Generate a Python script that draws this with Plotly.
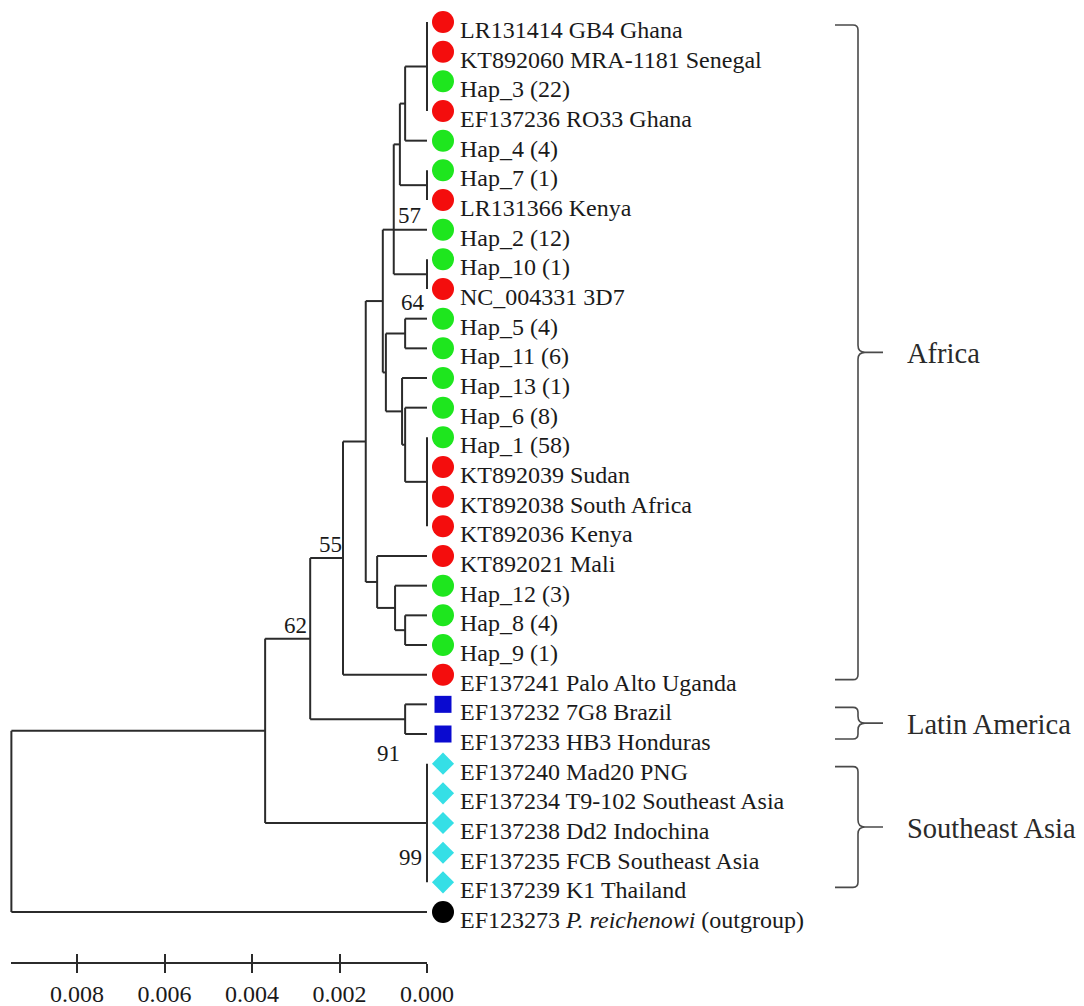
import plotly.graph_objects as go

# ---------------- data ----------------
leaf_labels = [
    "LR131414 GB4 Ghana", "KT892060 MRA-1181 Senegal", "Hap_3 (22)", "EF137236 RO33 Ghana",
    "Hap_4 (4)", "Hap_7 (1)", "LR131366 Kenya", "Hap_2 (12)", "Hap_10 (1)", "NC_004331 3D7",
    "Hap_5 (4)", "Hap_11 (6)", "Hap_13 (1)", "Hap_6 (8)", "Hap_1 (58)", "KT892039 Sudan",
    "KT892038 South Africa", "KT892036 Kenya", "KT892021 Mali", "Hap_12 (3)", "Hap_8 (4)",
    "Hap_9 (1)", "EF137241 Palo Alto Uganda", "EF137232 7G8 Brazil", "EF137233 HB3 Honduras",
    "EF137240 Mad20 PNG", "EF137234 T9-102 Southeast Asia", "EF137238 Dd2 Indochina",
    "EF137235 FCB Southeast Asia", "EF137239 K1 Thailand",
    "EF123273 <i>P. reichenowi</i> (outgroup)",
]
leaf_groups = [
    "ref", "ref", "hap", "ref", "hap", "hap", "ref", "hap", "hap", "ref",
    "hap", "hap", "hap", "hap", "hap", "ref", "ref", "ref", "ref", "hap",
    "hap", "hap", "ref", "latin", "latin", "asia", "asia", "asia", "asia", "asia",
    "out",
]
group_order = ["ref", "hap", "latin", "asia", "out"]
group_colors = ["#f40d0d", "#1ee61e", "#0a0ad0", "#35dfe6", "#000000"]
group_symbols = ["circle", "circle", "square", "diamond", "circle"]
group_sizes = [22, 22, 17, 17, 22]

# internal nodes: name, height (distance from tips), children (int = leaf index)
node_names = ["P1", "A", "P2", "B", "P3", "D", "E", "P4", "G", "H", "F", "I",
              "K", "L", "M", "J", "N", "Q", "O", "P5", "R", "root"]
node_heights = [0.0, 0.0005, 0.0, 0.00062, 0.0, 0.00076, 0.0005, 0.0, 0.0005, 0.00057,
                0.00094, 0.00101, 0.0005, 0.00073, 0.00114, 0.0014, 0.00192, 0.0005,
                0.00267, 0.0, 0.0037, 0.0095]
node_children = [
    [0, 1, 2, 3], ["P1", 4], [5, 6], ["A", "P2"], [8, 9], ["B", 7, "P3"],
    [10, 11], [14, 15, 16, 17], [13, "P4"], [12, "G"], ["E", "H"], ["D", "F"],
    [20, 21], [19, "K"], [18, "L"], ["I", "M"], ["J", 22], [23, 24], ["N", "Q"],
    [25, 26, 27, 28, 29], ["O", "P5"], ["R", 30],
]

bootstrap_nodes = ["D", "E", "N", "O", "Q", "P5"]
bootstrap_values = ["57", "64", "55", "62", "91", "99"]

region_names = ["Africa", "Latin America", "Southeast Asia"]
region_first_leaf = [0, 23, 25]
region_last_leaf = [22, 24, 29]

scale_max = 0.0095
scale_tick_values = [0.008, 0.006, 0.004, 0.002, 0.0]
scale_tick_labels = ["0.008", "0.006", "0.004", "0.002", "0.000"]

# ---------------- layout constants ----------------
W, H = 1084, 1006
PX_PER_UNIT = 43750.0
TIP_PX = 427.0
ROW_PX = 29.667
TOP_PX = 22.0
FONT = "Liberation Serif, Times New Roman, serif"
LINE_COLOR = "#2b2b2b"

x_left = TIP_PX / PX_PER_UNIT
x_right = x_left - W / PX_PER_UNIT


def px_to_x(px):
    return x_left - px / PX_PER_UNIT


def x_to_px(v):
    return (x_left - v) * PX_PER_UNIT


def py_to_y(py):
    return (py - TOP_PX) / ROW_PX


def y_to_py(y):
    return TOP_PX + y * ROW_PX


# ---------------- tree geometry ----------------
pos = {}


def child_pos(c):
    if isinstance(c, int):
        return (0.0, float(c))
    return pos[c]


seg_x, seg_y = [], []
for name, h, ch in zip(node_names, node_heights, node_children):
    cps = [child_pos(c) for c in ch]
    cys = [p[1] for p in cps]
    if len(cys) > 2 and len(cys) % 2 == 1:
        ny = cys[len(cys) // 2]
    else:
        ny = (cys[0] + cys[-1]) / 2.0
    pos[name] = (h, ny)
    seg_x += [h, h, None]
    seg_y += [cys[0], cys[-1], None]
    for (cx, cy) in cps:
        seg_x += [h, cx, None]
        seg_y += [cy, cy, None]

fig = go.Figure()
fig.add_trace(go.Scatter(x=seg_x, y=seg_y, mode="lines",
                         line=dict(color=LINE_COLOR, width=2),
                         hoverinfo="skip", showlegend=False))

marker_x = px_to_x(TIP_PX + 16)
for g, col, sym, sz in zip(group_order, group_colors, group_symbols, group_sizes):
    idx = [i for i, lg in enumerate(leaf_groups) if lg == g]
    fig.add_trace(go.Scatter(
        x=[marker_x] * len(idx), y=idx, mode="markers",
        marker=dict(color=col, symbol=sym, size=sz, line=dict(width=0)),
        hoverinfo="skip", showlegend=False, cliponaxis=False))

annotations = []
for i, lab in enumerate(leaf_labels):
    annotations.append(dict(x=0.0, y=i, xref="x", yref="y", text=lab, showarrow=False,
                            xanchor="left", yanchor="middle", xshift=31, yshift=-8,
                            font=dict(family=FONT, size=24, color="#1a1a1a")))

bs_style = {
    "D": dict(xanchor="left", yanchor="bottom", xshift=2, yshift=0),
    "E": dict(xanchor="left", yanchor="bottom", xshift=-6, yshift=17),
    "N": dict(xanchor="right", yanchor="bottom", xshift=1, yshift=-1),
    "O": dict(xanchor="right", yanchor="bottom", xshift=-1, yshift=-1),
    "Q": dict(xanchor="right", yanchor="top", xshift=-3, yshift=-20),
    "P5": dict(xanchor="right", yanchor="top", xshift=-3, yshift=-20),
}
for nm, val in zip(bootstrap_nodes, bootstrap_values):
    nx, ny = pos[nm]
    annotations.append(dict(x=nx, y=ny, xref="x", yref="y", text=val, showarrow=False,
                            font=dict(family=FONT, size=23, color="#1a1a1a"),
                            **bs_style[nm]))

# region braces
ARM_PX, VERT_PX, TIP_END_PX, LABEL_PX = 835, 858, 883, 905
shapes = []
for rn, f, l in zip(region_names, region_first_leaf, region_last_leaf):
    yt = y_to_py(f) + 3
    yb = y_to_py(l) + 5
    ym = (y_to_py(f) + y_to_py(l)) / 2 + 4
    pts = [("M", ARM_PX, yt), ("L", VERT_PX - 5, yt), ("Q", VERT_PX, yt), ("", VERT_PX, yt + 5),
           ("L", VERT_PX, ym - 7), ("Q", VERT_PX, ym), ("", VERT_PX + 7, ym), ("L", TIP_END_PX, ym),
           ("M", VERT_PX + 7, ym), ("Q", VERT_PX, ym), ("", VERT_PX, ym + 7),
           ("L", VERT_PX, yb - 5), ("Q", VERT_PX, yb), ("", VERT_PX - 5, yb), ("L", ARM_PX, yb)]
    path = " ".join(f"{c} {px_to_x(px):.8f},{py_to_y(py):.5f}".strip() for c, px, py in pts)
    shapes.append(dict(type="path", path=path, xref="x", yref="y",
                       line=dict(color="#4a4a4a", width=1.6)))
    annotations.append(dict(x=px_to_x(LABEL_PX), y=py_to_y(ym), xref="x", yref="y", text=rn,
                            showarrow=False, xanchor="left", yanchor="middle", yshift=-1,
                            font=dict(family=FONT, size=28.5, color="#2a2a2a")))

# scale bar axes (invisible carrier traces)
dom = [x_to_px(scale_max) / W, x_to_px(0.0) / W]
for ax in ["x2", "x3"]:
    fig.add_trace(go.Scatter(x=[scale_max, 0.0], y=[32, 32], xaxis=ax, yaxis="y",
                             mode="lines", line=dict(width=0), hoverinfo="skip",
                             showlegend=False))

axis_pos = 1 - 963.0 / H
fig.update_layout(
    width=W, height=H, autosize=False,
    margin=dict(l=0, r=0, t=0, b=0, pad=0, autoexpand=False),
    paper_bgcolor="white", plot_bgcolor="rgba(0,0,0,0)",
    xaxis=dict(range=[x_left, x_right], visible=False, domain=[0, 1], automargin=False),
    yaxis=dict(range=[py_to_y(H), py_to_y(0)], visible=False, domain=[0, 1], automargin=False),
    xaxis2=dict(range=[scale_max, 0.0], domain=dom, anchor="free", position=axis_pos,
                automargin=False,
                showline=True, linecolor=LINE_COLOR, linewidth=2, showgrid=False,
                zeroline=False, ticks="outside", ticklen=9, tickwidth=2, tickcolor=LINE_COLOR,
                tickvals=scale_tick_values, ticktext=scale_tick_labels,
                tickfont=dict(family=FONT, size=24, color="#1a1a1a")),
    xaxis3=dict(range=[scale_max, 0.0], domain=dom, anchor="free", position=axis_pos,
                automargin=False,
                showline=False, showgrid=False, zeroline=False, ticks="inside", ticklen=9,
                tickwidth=2, tickcolor=LINE_COLOR, tickvals=scale_tick_values,
                showticklabels=False),
    annotations=annotations, shapes=shapes, showlegend=False,
)

fig.write_html("out.html",
               config={"displayModeBar": False, "responsive": False},
               post_script="document.body.style.margin='0px';document.body.style.overflow='hidden';")
